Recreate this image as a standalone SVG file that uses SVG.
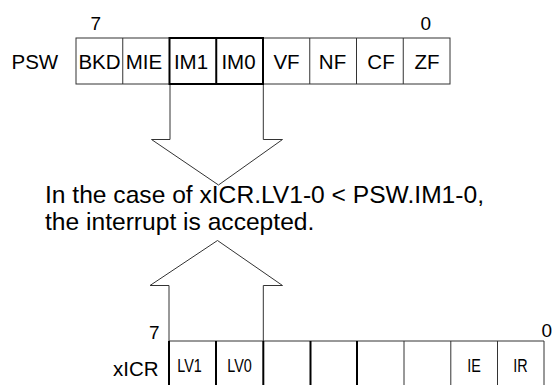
<svg xmlns="http://www.w3.org/2000/svg" width="554" height="385" viewBox="0 0 554 385">
<style>
text{font-family:"Liberation Sans",Arial,sans-serif;fill:#000}
.reg{font-size:20.5px;text-anchor:middle}
.lbl{font-size:20.5px}
.dig{font-size:19px}
.main{font-size:24.6px}
.sm{font-size:18px;text-anchor:middle}
.thin{fill:none;stroke:#333;stroke-width:1}
.thick{fill:none;stroke:#000;stroke-width:2}
.arrow{fill:#fff;stroke:#333;stroke-width:1;stroke-linejoin:miter}
</style>
<rect width="554" height="385" fill="#fff"/>
<g id="connectors">
<polyline class="arrow" points="170,84 170,139.5 151.5,139.5 218.5,185 282.5,139.5 263.3,139.5 263.3,84"/>
<polyline class="arrow" points="169,341 169,285.5 150,285.5 217.5,240.5 282.5,285.5 263.3,285.5 263.3,341"/>
</g>
<g id="psw">
<text class="lbl" x="11.5" y="69">PSW</text>
<text class="dig" x="90.5" y="29.5">7</text>
<text class="dig" x="420.5" y="29.5">0</text>
<rect class="thin" x="76" y="38" width="374" height="46"/>
<line class="thin" x1="122.75" y1="38" x2="122.75" y2="84"/>
<line class="thin" x1="309.75" y1="38" x2="309.75" y2="84"/>
<line class="thin" x1="356.5" y1="38" x2="356.5" y2="84"/>
<line class="thin" x1="403.25" y1="38" x2="403.25" y2="84"/>
<rect class="thick" x="169.5" y="38" width="93.5" height="46"/>
<line class="thick" x1="216.25" y1="38" x2="216.25" y2="84"/>
<text class="reg" x="99.5" y="68.5">BKD</text>
<text class="reg" x="144" y="68.5">MIE</text>
<text class="reg" x="191" y="68.5">IM1</text>
<text class="reg" x="238.5" y="68.5">IM0</text>
<text class="reg" x="286.5" y="68.5">VF</text>
<text class="reg" x="332.5" y="68.5">NF</text>
<text class="reg" x="381" y="68.5">CF</text>
<text class="reg" x="427" y="68.5">ZF</text>
</g>
<g id="condition">
<text class="main" x="45" y="203">In the case of xICR.LV1-0 &lt; PSW.IM1-0,</text>
<text class="main" x="45" y="230">the interrupt is accepted.</text>
</g>
<g id="xicr">
<text class="lbl" x="113" y="375.5">xICR</text>
<text class="dig" x="149" y="338.5">7</text>
<text class="dig" x="541.5" y="336.5">0</text>
<line class="thin" x1="169" y1="341" x2="544" y2="341"/>
<line class="thick" x1="169" y1="341" x2="169" y2="385"/>
<line class="thick" x1="216" y1="341" x2="216" y2="385"/>
<line class="thick" x1="263.3" y1="341" x2="263.3" y2="385"/>
<line class="thick" x1="310.5" y1="341" x2="310.5" y2="385"/>
<line class="thick" x1="357" y1="341" x2="357" y2="385"/>
<line class="thin" x1="404" y1="341" x2="404" y2="385"/>
<line class="thin" x1="450.8" y1="341" x2="450.8" y2="385"/>
<line class="thin" x1="497.5" y1="341" x2="497.5" y2="385"/>
<line class="thin" x1="544" y1="341" x2="544" y2="385"/>
<text class="sm" transform="translate(189.5,372) scale(0.8,1)">LV1</text>
<text class="sm" transform="translate(239.5,372) scale(0.8,1)">LV0</text>
<text class="sm" transform="translate(474,372) scale(0.8,1)">IE</text>
<text class="sm" transform="translate(520.5,372) scale(0.8,1)">IR</text>
</g>
</svg>
